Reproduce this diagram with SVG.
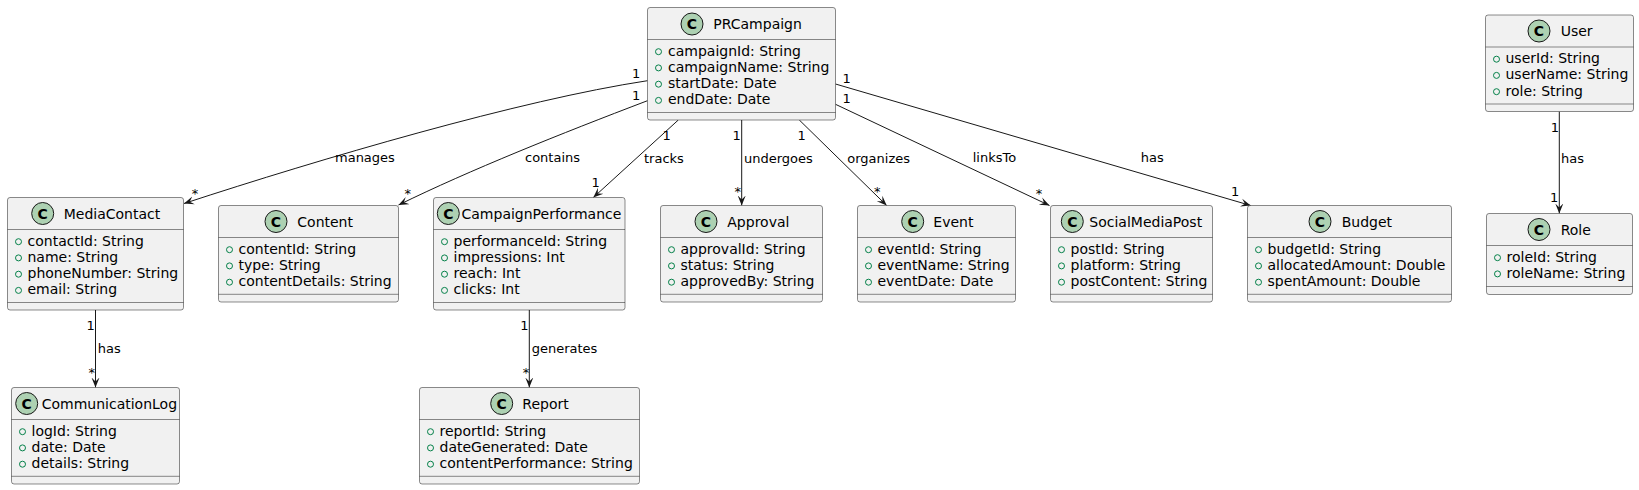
<svg xmlns="http://www.w3.org/2000/svg" width="1639" height="490" viewBox="0 0 1639 490">
<style>
.box{fill:#F1F1F1;stroke:#181818;stroke-width:0.5}
.div{stroke:#181818;stroke-width:0.5}
.ic{fill:#ADD1B2;stroke:#181818;stroke-width:1}
.icl{font-family:"DejaVu Sans",sans-serif;font-size:14px;font-weight:bold;fill:#000;text-anchor:middle}
.t{font-family:"DejaVu Sans",sans-serif;font-size:14px;fill:#000}
.m{fill:none;stroke:#038048;stroke-width:1}
.e{fill:none;stroke:#181818;stroke-width:1}
.l{font-family:"DejaVu Sans",sans-serif;font-size:13px;fill:#000}
</style>
<defs>
<marker id="arr" viewBox="0 0 12 10" refX="10" refY="5" markerWidth="12" markerHeight="10" markerUnits="userSpaceOnUse" orient="auto">
<path d="M10,5 L0,1 L4,5 L0,9 Z" fill="#181818"/>
</marker>
</defs>

<g id="connectors">
<path class="e" marker-end="url(#arr)" d="M647.5,80.7 C520,100 320,159 184,203.5"/>
<path class="e" marker-end="url(#arr)" d="M647.5,100.7 C560,134 470,170 398.5,205"/>
<path class="e" marker-end="url(#arr)" d="M678.3,120 L593.3,197.5"/>
<path class="e" marker-end="url(#arr)" d="M741.7,120 L741.7,205.5"/>
<path class="e" marker-end="url(#arr)" d="M799.3,120 L886.7,205.5"/>
<path class="e" marker-end="url(#arr)" d="M835.5,104.3 L1049.5,205.5"/>
<path class="e" marker-end="url(#arr)" d="M835.5,84 L1250.7,205.5"/>
<path class="e" marker-end="url(#arr)" d="M95.5,310 L95.5,387.5"/>
<path class="e" marker-end="url(#arr)" d="M529.3,310 L529.3,387.5"/>
<path class="e" marker-end="url(#arr)" d="M1559.3,111.5 L1559.3,213.5"/>
<text class="l" x="335" y="162.3">manages</text>
<text class="l" x="632" y="78.3">1</text>
<text class="l" x="191.7" y="198">*</text>
<text class="l" x="525" y="162.3">contains</text>
<text class="l" x="632" y="100">1</text>
<text class="l" x="404.5" y="198">*</text>
<text class="l" x="644" y="162.7">tracks</text>
<text class="l" x="662.5" y="140">1</text>
<text class="l" x="591.5" y="186.7">1</text>
<text class="l" x="744" y="162.7">undergoes</text>
<text class="l" x="732.5" y="140">1</text>
<text class="l" x="734.5" y="196">*</text>
<text class="l" x="847.3" y="162.7">organizes</text>
<text class="l" x="797.5" y="140">1</text>
<text class="l" x="874" y="196">*</text>
<text class="l" x="972.7" y="162.3">linksTo</text>
<text class="l" x="842.5" y="103.3">1</text>
<text class="l" x="1035.7" y="198">*</text>
<text class="l" x="1140.7" y="162.3">has</text>
<text class="l" x="842.5" y="83.3">1</text>
<text class="l" x="1231" y="196">1</text>
<text class="l" x="97.7" y="352.7">has</text>
<text class="l" x="86.5" y="330">1</text>
<text class="l" x="88.5" y="377">*</text>
<text class="l" x="531.7" y="352.7">generates</text>
<text class="l" x="520.2" y="330">1</text>
<text class="l" x="522.8" y="377">*</text>
<text class="l" x="1561" y="162.7">has</text>
<text class="l" x="1550.8" y="131.7">1</text>
<text class="l" x="1550" y="201.7">1</text>
</g>

<g id="PRCampaign">
<rect class="box" x="647.5" y="7.5" width="188" height="112.5" rx="2.5"/>
<line class="div" x1="647.5" y1="39.5" x2="835.5" y2="39.5"/>
<line class="div" x1="647.5" y1="112.5" x2="835.5" y2="112.5"/>
<circle class="ic" cx="692" cy="24" r="11"/><text class="icl" x="692" y="29">C</text>
<text class="t" x="713.3" y="28.5">PRCampaign</text>
<circle class="m" cx="658.5" cy="51.7" r="3"/><text class="t" x="668" y="55.7">campaignId: String</text>
<circle class="m" cx="658.5" cy="67.9" r="3"/><text class="t" x="668" y="71.9">campaignName: String</text>
<circle class="m" cx="658.5" cy="84.2" r="3"/><text class="t" x="668" y="88.2">startDate: Date</text>
<circle class="m" cx="658.5" cy="100.4" r="3"/><text class="t" x="668" y="104.4">endDate: Date</text>
</g>

<g id="MediaContact">
<rect class="box" x="7.5" y="197.5" width="176" height="112.5" rx="2.5"/>
<line class="div" x1="7.5" y1="229.5" x2="183.5" y2="229.5"/>
<line class="div" x1="7.5" y1="302.5" x2="183.5" y2="302.5"/>
<circle class="ic" cx="42.7" cy="213.5" r="11"/><text class="icl" x="42.7" y="218.5">C</text>
<text class="t" x="63.7" y="218.5">MediaContact</text>
<circle class="m" cx="18.5" cy="241.7" r="3"/><text class="t" x="27.5" y="245.7">contactId: String</text>
<circle class="m" cx="18.5" cy="257.9" r="3"/><text class="t" x="27.5" y="261.9">name: String</text>
<circle class="m" cx="18.5" cy="274.2" r="3"/><text class="t" x="27.5" y="278.2">phoneNumber: String</text>
<circle class="m" cx="18.5" cy="290.4" r="3"/><text class="t" x="27.5" y="294.4">email: String</text>
</g>

<g id="Content">
<rect class="box" x="218.5" y="205.5" width="180" height="96.5" rx="2.5"/>
<line class="div" x1="218.5" y1="237.5" x2="398.5" y2="237.5"/>
<line class="div" x1="218.5" y1="294.3" x2="398.5" y2="294.3"/>
<circle class="ic" cx="276" cy="221.5" r="11"/><text class="icl" x="276" y="226.5">C</text>
<text class="t" x="297.3" y="226.5">Content</text>
<circle class="m" cx="229.5" cy="249.7" r="3"/><text class="t" x="238.5" y="253.7">contentId: String</text>
<circle class="m" cx="229.5" cy="265.9" r="3"/><text class="t" x="238.5" y="269.9">type: String</text>
<circle class="m" cx="229.5" cy="282.2" r="3"/><text class="t" x="238.5" y="286.2">contentDetails: String</text>
</g>

<g id="CampaignPerformance">
<rect class="box" x="433.5" y="197.5" width="191.5" height="112.5" rx="2.5"/>
<line class="div" x1="433.5" y1="229.5" x2="625" y2="229.5"/>
<line class="div" x1="433.5" y1="302.5" x2="625" y2="302.5"/>
<circle class="ic" cx="448.3" cy="213.5" r="11"/><text class="icl" x="448.3" y="218.5">C</text>
<text class="t" x="461.5" y="218.5">CampaignPerformance</text>
<circle class="m" cx="444.5" cy="241.7" r="3"/><text class="t" x="453.5" y="245.7">performanceId: String</text>
<circle class="m" cx="444.5" cy="257.9" r="3"/><text class="t" x="453.5" y="261.9">impressions: Int</text>
<circle class="m" cx="444.5" cy="274.2" r="3"/><text class="t" x="453.5" y="278.2">reach: Int</text>
<circle class="m" cx="444.5" cy="290.4" r="3"/><text class="t" x="453.5" y="294.4">clicks: Int</text>
</g>

<g id="Approval">
<rect class="box" x="660.5" y="205.5" width="162" height="96.5" rx="2.5"/>
<line class="div" x1="660.5" y1="237.5" x2="822.5" y2="237.5"/>
<line class="div" x1="660.5" y1="294.3" x2="822.5" y2="294.3"/>
<circle class="ic" cx="706" cy="221.5" r="11"/><text class="icl" x="706" y="226.5">C</text>
<text class="t" x="727.3" y="226.5">Approval</text>
<circle class="m" cx="671.5" cy="249.7" r="3"/><text class="t" x="680.5" y="253.7">approvalId: String</text>
<circle class="m" cx="671.5" cy="265.9" r="3"/><text class="t" x="680.5" y="269.9">status: String</text>
<circle class="m" cx="671.5" cy="282.2" r="3"/><text class="t" x="680.5" y="286.2">approvedBy: String</text>
</g>

<g id="Event">
<rect class="box" x="857.5" y="205.5" width="158" height="96.5" rx="2.5"/>
<line class="div" x1="857.5" y1="237.5" x2="1015.5" y2="237.5"/>
<line class="div" x1="857.5" y1="294.3" x2="1015.5" y2="294.3"/>
<circle class="ic" cx="912.7" cy="221.5" r="11"/><text class="icl" x="912.7" y="226.5">C</text>
<text class="t" x="933.3" y="226.5">Event</text>
<circle class="m" cx="868.5" cy="249.7" r="3"/><text class="t" x="877.5" y="253.7">eventId: String</text>
<circle class="m" cx="868.5" cy="265.9" r="3"/><text class="t" x="877.5" y="269.9">eventName: String</text>
<circle class="m" cx="868.5" cy="282.2" r="3"/><text class="t" x="877.5" y="286.2">eventDate: Date</text>
</g>

<g id="SocialMediaPost">
<rect class="box" x="1050.5" y="205.5" width="162" height="96.5" rx="2.5"/>
<line class="div" x1="1050.5" y1="237.5" x2="1212.5" y2="237.5"/>
<line class="div" x1="1050.5" y1="294.3" x2="1212.5" y2="294.3"/>
<circle class="ic" cx="1072.3" cy="221.5" r="11"/><text class="icl" x="1072.3" y="226.5">C</text>
<text class="t" x="1089.3" y="226.5">SocialMediaPost</text>
<circle class="m" cx="1061.5" cy="249.7" r="3"/><text class="t" x="1070.5" y="253.7">postId: String</text>
<circle class="m" cx="1061.5" cy="265.9" r="3"/><text class="t" x="1070.5" y="269.9">platform: String</text>
<circle class="m" cx="1061.5" cy="282.2" r="3"/><text class="t" x="1070.5" y="286.2">postContent: String</text>
</g>

<g id="Budget">
<rect class="box" x="1247.5" y="205.5" width="204" height="96.5" rx="2.5"/>
<line class="div" x1="1247.5" y1="237.5" x2="1451.5" y2="237.5"/>
<line class="div" x1="1247.5" y1="294.3" x2="1451.5" y2="294.3"/>
<circle class="ic" cx="1320" cy="221.5" r="11"/><text class="icl" x="1320" y="226.5">C</text>
<text class="t" x="1341.7" y="226.5">Budget</text>
<circle class="m" cx="1258.5" cy="249.7" r="3"/><text class="t" x="1267.5" y="253.7">budgetId: String</text>
<circle class="m" cx="1258.5" cy="265.9" r="3"/><text class="t" x="1267.5" y="269.9">allocatedAmount: Double</text>
<circle class="m" cx="1258.5" cy="282.2" r="3"/><text class="t" x="1267.5" y="286.2">spentAmount: Double</text>
</g>

<g id="User">
<rect class="box" x="1485.5" y="15" width="148" height="96.5" rx="2.5"/>
<line class="div" x1="1485.5" y1="47" x2="1633.5" y2="47"/>
<line class="div" x1="1485.5" y1="104" x2="1633.5" y2="104"/>
<circle class="ic" cx="1539" cy="31" r="11"/><text class="icl" x="1539" y="36">C</text>
<text class="t" x="1560.7" y="36">User</text>
<circle class="m" cx="1496.5" cy="59.2" r="3"/><text class="t" x="1505.5" y="63.2">userId: String</text>
<circle class="m" cx="1496.5" cy="75.4" r="3"/><text class="t" x="1505.5" y="79.4">userName: String</text>
<circle class="m" cx="1496.5" cy="91.7" r="3"/><text class="t" x="1505.5" y="95.7">role: String</text>
</g>

<g id="Role">
<rect class="box" x="1486.5" y="213.5" width="146" height="81" rx="2.5"/>
<line class="div" x1="1486.5" y1="245.5" x2="1632.5" y2="245.5"/>
<line class="div" x1="1486.5" y1="286.5" x2="1632.5" y2="286.5"/>
<circle class="ic" cx="1539" cy="229.5" r="11"/><text class="icl" x="1539" y="234.5">C</text>
<text class="t" x="1560.7" y="234.5">Role</text>
<circle class="m" cx="1497.5" cy="257.7" r="3"/><text class="t" x="1506.5" y="261.7">roleId: String</text>
<circle class="m" cx="1497.5" cy="273.9" r="3"/><text class="t" x="1506.5" y="277.9">roleName: String</text>
</g>

<g id="CommunicationLog">
<rect class="box" x="11.5" y="387.5" width="168" height="96.5" rx="2.5"/>
<line class="div" x1="11.5" y1="419.5" x2="179.5" y2="419.5"/>
<line class="div" x1="11.5" y1="476.3" x2="179.5" y2="476.3"/>
<circle class="ic" cx="26.7" cy="403.5" r="11"/><text class="icl" x="26.7" y="408.5">C</text>
<text class="t" x="41.7" y="408.5">CommunicationLog</text>
<circle class="m" cx="22.5" cy="431.7" r="3"/><text class="t" x="31.5" y="435.7">logId: String</text>
<circle class="m" cx="22.5" cy="447.9" r="3"/><text class="t" x="31.5" y="451.9">date: Date</text>
<circle class="m" cx="22.5" cy="464.2" r="3"/><text class="t" x="31.5" y="468.2">details: String</text>
</g>

<g id="Report">
<rect class="box" x="419.5" y="387.5" width="220" height="96.5" rx="2.5"/>
<line class="div" x1="419.5" y1="419.5" x2="639.5" y2="419.5"/>
<line class="div" x1="419.5" y1="476.3" x2="639.5" y2="476.3"/>
<circle class="ic" cx="501.7" cy="403.5" r="11"/><text class="icl" x="501.7" y="408.5">C</text>
<text class="t" x="522.3" y="408.5">Report</text>
<circle class="m" cx="430.5" cy="431.7" r="3"/><text class="t" x="439.5" y="435.7">reportId: String</text>
<circle class="m" cx="430.5" cy="447.9" r="3"/><text class="t" x="439.5" y="451.9">dateGenerated: Date</text>
<circle class="m" cx="430.5" cy="464.2" r="3"/><text class="t" x="439.5" y="468.2">contentPerformance: String</text>
</g>
</svg>
